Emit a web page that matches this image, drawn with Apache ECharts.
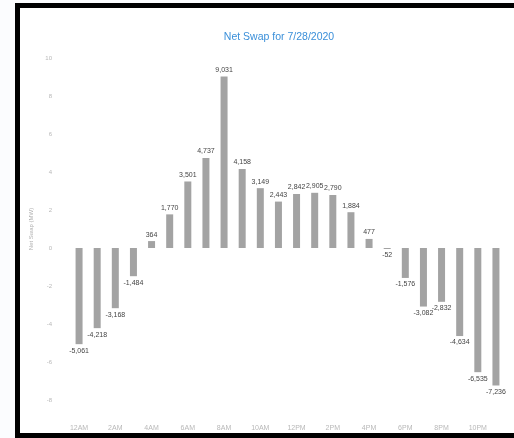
<!DOCTYPE html>
<html>
<head>
<meta charset="utf-8">
<script src="https://cdn.jsdelivr.net/npm/echarts@6/dist/echarts.min.js"></script>
<style>
  html, body { margin: 0; padding: 0; background: #fbfcfe; overflow: hidden; width: 514px; height: 438px; }
  #frame { position: absolute; left: 15px; top: 3px; width: 530px; height: 425px; border: 5px solid #000; background: #fff; }
  #chart { width: 530px; height: 425px; }
</style>
</head>
<body>
<div id="frame"><div id="chart"></div></div>
<script>
// Hourly net swap (MW) for one day
const hours = ['12AM','1AM','2AM','3AM','4AM','5AM','6AM','7AM','8AM','9AM','10AM','11AM',
               '12PM','1PM','2PM','3PM','4PM','5PM','6PM','7PM','8PM','9PM','10PM','11PM'];
const netSwap = [-5061, -4218, -3168, -1484, 364, 1770, 3501, 4737, 9031, 4158, 3149, 2443,
                 2842, 2905, 2790, 1884, 477, -52, -1576, -3082, -2832, -4634, -6535, -7236];
const yMin = -8000, yMax = 10000, yStep = 2000;

const chart = echarts.init(document.getElementById('chart'));
chart.setOption({
  animation: false,
  backgroundColor: '#fff',
  title: {
    text: 'Net Swap for 7/28/2020',
    left: 254,
    textAlign: 'center',
    top: 19,
    textStyle: { color: '#3a8fd9', fontSize: 10.5, fontWeight: 'normal', fontFamily: 'Liberation Sans' }
  },
  grid: { left: 50, right: 45, top: 50, bottom: 33 },
  xAxis: {
    type: 'category',
    data: hours,
    position: 'bottom',
    axisLine: { show: false, onZero: false },
    axisTick: { show: false },
    axisLabel: { interval: 1, margin: 25, fontSize: 7, color: '#b8b8b8', fontFamily: 'Liberation Sans' }
  },
  yAxis: {
    type: 'value',
    min: yMin, max: yMax, interval: yStep,
    name: 'Net Swap (MW)',
    nameLocation: 'middle',
    nameGap: 33,
    nameTextStyle: { fontSize: 6, color: '#b0b0b0', fontFamily: 'Liberation Sans' },
    splitLine: { show: false },
    axisLine: { show: false },
    axisTick: { show: false },
    axisLabel: {
      fontSize: 6, color: '#b8b8b8', margin: 18, fontFamily: 'Liberation Sans',
      formatter: v => String(v / 1000)
    }
  },
  series: [{
    type: 'bar',
    barWidth: 7,
    itemStyle: { color: '#a3a3a3' },
    label: {
      show: true,
      fontSize: 7,
      color: '#444',
      fontFamily: 'Liberation Sans',
      distance: 3,
      formatter: p => p.value.toLocaleString('en-US')
    },
    // negative bars carry their label under the bar end
    data: netSwap.map(v => ({ value: v, label: { position: v < 0 ? 'bottom' : 'top' } }))
  }]
});
</script>
</body>
</html>
